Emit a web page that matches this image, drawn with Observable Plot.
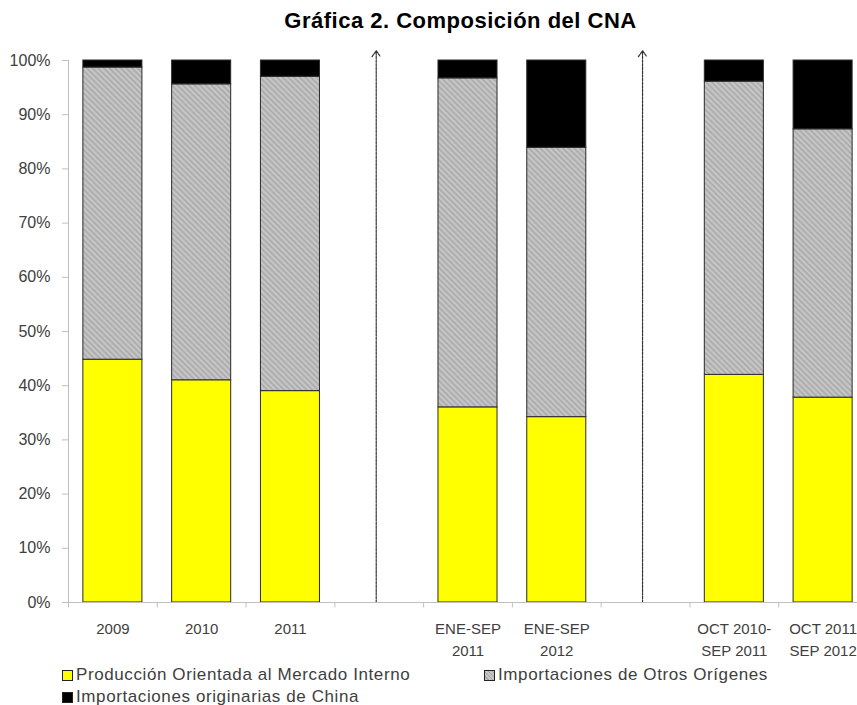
<!DOCTYPE html>
<html>
<head>
<meta charset="utf-8">
<script src="https://cdn.jsdelivr.net/npm/d3@7"></script>
<script src="https://cdn.jsdelivr.net/npm/@observablehq/plot@0.6"></script>
<style>
  html, body { margin: 0; padding: 0; background: #fff; width: 857px; overflow: hidden; }
  #title { height: 45px; box-sizing: border-box; padding-top: 9px; padding-left: 64px; text-align: center; font: bold 22px "Liberation Sans", Arial, sans-serif; letter-spacing: 0.5px; color: #000; line-height: 24px; }
  #chart svg { display: block; overflow: hidden; }
  #legend { position: relative; height: 40px; font: 17px "Liberation Sans", Arial, sans-serif; letter-spacing: 0.6px; color: #404040; }
  .item { position: absolute; white-space: nowrap; line-height: 18px; }
  .sw { display: inline-block; width: 9px; height: 9px; border: 1px solid #222; margin-right: 3px; vertical-align: -1px; }
</style>
</head>
<body>
<div id="title">Gráfica 2. Composición del CNA</div>
<div id="chart"></div>
<div id="legend"></div>
<script>
// ---- data ----
const categories = ["2009", "2010", "2011", "gap1", "ENE-SEP 2011", "ENE-SEP 2012", "gap2", "OCT 2010-SEP 2011", "OCT 2011 SEP 2012"];
const tickLabels = ["2009", "2010", "2011", "", "ENE-SEP\n2011", "ENE-SEP\n2012", "", "OCT 2010-\nSEP 2011", "OCT 2011\nSEP 2012"];
const periods = ["2009", "2010", "2011", "ENE-SEP 2011", "ENE-SEP 2012", "OCT 2010-SEP 2011", "OCT 2011 SEP 2012"];
const gaps = ["gap1", "gap2"];
const series = ["Producción Orientada al Mercado Interno", "Importaciones de Otros Orígenes", "Importaciones originarias de China"];
const produccion = [0.448, 0.410, 0.390, 0.360, 0.342, 0.420, 0.378];
const otros = [0.539, 0.546, 0.580, 0.607, 0.497, 0.541, 0.495];
const china = [0.013, 0.044, 0.030, 0.033, 0.161, 0.039, 0.127];
const yTicks = [0, 0.1, 0.2, 0.3, 0.4, 0.5, 0.6, 0.7, 0.8, 0.9, 1];
const seriesColors = ["#ffff00", "url(#hatch)", "#000000"];

const table = [];
periods.forEach((p, i) => {
  table.push({period: p, series: series[0], value: produccion[i]});
  table.push({period: p, series: series[1], value: otros[i]});
  table.push({period: p, series: series[2], value: china[i]});
});

const W = 857, H = 620;
const x0 = 68, x1 = 867;
const step = (x1 - x0) / categories.length;

const svg = Plot.plot({
  width: W,
  height: H,
  marginTop: 15,
  marginBottom: 63,
  marginLeft: x0,
  marginRight: 0,
  style: {fontFamily: "'Liberation Sans', Arial, sans-serif", fontSize: "15px", color: "#404040", background: "#fff"},
  x: {domain: categories, range: [x0, x1], paddingInner: 0.335, paddingOuter: 0.1675, round: false, axis: null},
  y: {domain: [0, 1], axis: null},
  color: {domain: series, range: seriesColors},
  marks: [
    Plot.barY(table, Plot.stackY({x: "period", y: "value", fill: "series", order: series, stroke: "#2a2a2a", strokeWidth: 1})),
    // dashed separators with arrow heads
    Plot.arrow(gaps, {x1: (d) => d, x2: (d) => d, y1: 0, y2: 1.018, dx: -3, stroke: "#333", strokeWidth: 1.2, strokeDasharray: "2.5,1.2", headLength: 9, headAngle: 70}),
    // axes lines
    Plot.ruleY([0], {stroke: "#bfbfbf"}),
    Plot.ruleX([categories[0]], {y1: 0, y2: 1, dx: -step / 2, stroke: "#bfbfbf"}),
    // boundary ticks on the x axis
    Plot.ruleX(categories, {y1: 0, y2: -0.01, dx: -step / 2, stroke: "#bfbfbf"}),
    Plot.axisY({ticks: yTicks, tickFormat: d3.format(".0%"), tickSize: 6, tickPadding: 12, stroke: "#bfbfbf", fill: "#404040", fontSize: 16, label: null}),
    Plot.axisX({tickSize: 0, tickPadding: 16, tickFormat: (d) => tickLabels[categories.indexOf(d)], lineHeight: 1.45, fill: "#404040", fontSize: 15, label: null})
  ]
});

const defs = document.createElementNS("http://www.w3.org/2000/svg", "defs");
defs.innerHTML = `<pattern id="hatch" patternUnits="userSpaceOnUse" width="4" height="4" patternTransform="rotate(-45)">
  <rect width="4" height="4" fill="#c6c6c6"></rect>
  <line x1="1" y1="0" x2="1" y2="4" stroke="#a4a4a4" stroke-width="1.4"></line>
</pattern>`;
svg.insertBefore(defs, svg.firstChild);
document.getElementById("chart").appendChild(svg);

// legend
const legend = document.getElementById("legend");
const legendPos = [[62, 1], [484, 1], [62, 23]];
series.forEach((s, i) => {
  const d = document.createElement("div");
  d.className = "item";
  d.style.left = legendPos[i][0] + "px";
  d.style.top = legendPos[i][1] + "px";
  const sw = document.createElement("span");
  sw.className = "sw";
  sw.style.background = i === 1 ? "repeating-linear-gradient(45deg,#c6c6c6 0 2px,#a4a4a4 2px 3px)" : seriesColors[i];
  d.appendChild(sw);
  d.appendChild(document.createTextNode(s));
  legend.appendChild(d);
});
</script>
</body>
</html>
